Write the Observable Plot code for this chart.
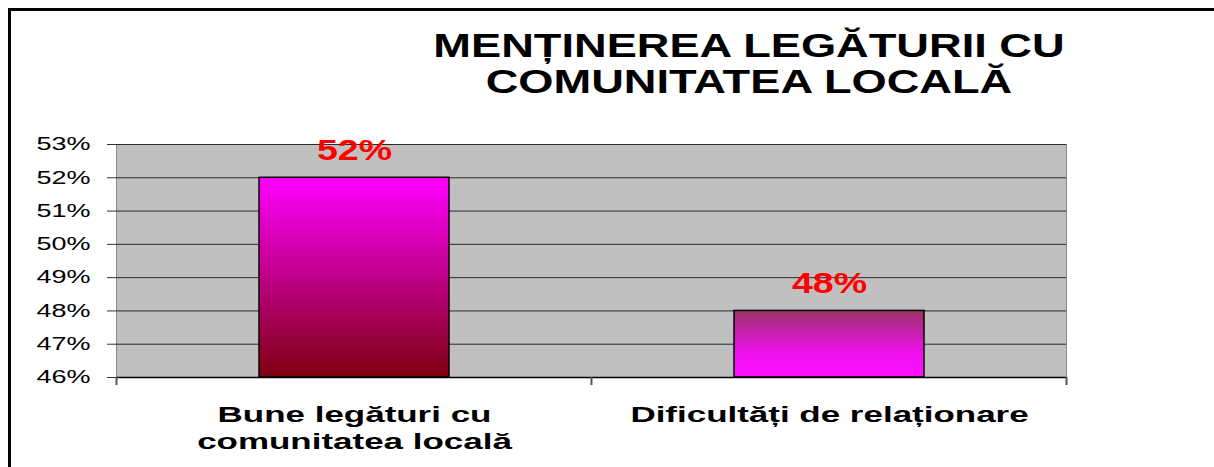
<!DOCTYPE html>
<html><head><meta charset="utf-8">
<script src="https://cdn.jsdelivr.net/npm/d3@7"></script>
<script src="https://cdn.jsdelivr.net/npm/@observablehq/plot@0.6"></script>
<style>
html,body{margin:0;padding:0;background:#fff;overflow:hidden;width:1214px;height:467px;}
#wrap{position:relative;width:1214px;height:467px;overflow:hidden;font-family:"Liberation Sans",Arial,sans-serif;}
#chart{position:absolute;left:0;top:0;}
#border{position:absolute;left:8px;top:8px;width:1300px;height:600px;border:3px solid #000;box-sizing:border-box;pointer-events:none;}
.title{position:absolute;left:749px;top:28px;white-space:nowrap;text-align:center;font-weight:bold;font-size:33px;line-height:36px;color:#000;transform:translateX(-50%) scaleX(1.37);}
</style></head><body>
<div id="wrap"><div id="chart"></div><div id="border"></div><div class="title" id="title"></div></div>
<script>
const categories = ["Bune legături cu\ncomunitatea locală", "Dificultăți de relaționare"];
const values = [0.52, 0.48];
const gradients = ["g1", "g2"];
const yTicks = [0.46, 0.47, 0.48, 0.49, 0.50, 0.51, 0.52, 0.53];
const yDomain = [0.46, 0.53];
const titleLines = ["MENȚINEREA LEGĂTURII CU", "COMUNITATEA LOCALĂ"];

document.getElementById("title").innerHTML = titleLines.join("<br>");

const data = categories.map((c, i) => ({cat: c, value: values[i], grad: gradients[i]}));
const pct = d3.format(".0%");

const plot = Plot.plot({
  width: 1214, height: 467,
  marginTop: 144, marginBottom: 90, marginLeft: 116, marginRight: 148,
  style: {fontFamily: "Liberation Sans, Arial, sans-serif", background: "transparent", overflow: "visible", color: "#000"},
  x: {domain: categories, paddingInner: 0.6, paddingOuter: 0.3, label: null},
  y: {domain: yDomain, label: null},
  color: {type: "identity"},
  marks: [
    Plot.frame({fill: "#C0C0C0", stroke: "#888"}),
    Plot.gridY({ticks: yTicks, stroke: "#2b2b2b", strokeOpacity: 1}),
    Plot.barY(data, {x: "cat", y1: () => yDomain[0], y2: "value", fill: d => `url(#${d.grad})`, stroke: "#000", strokeWidth: 1.5}),
    Plot.ruleY([yDomain[0]], {stroke: "#000", strokeWidth: 1.5}),
    Plot.axisY({ticks: yTicks, tickFormat: pct, tickSize: 9, tickPadding: 17, fontSize: 18, stroke: "#333", label: null}),
    Plot.axisX({tickSize: 0, tickPadding: 25, fontSize: 22, fontWeight: "bold", lineHeight: 1.23, label: null}),
    Plot.text(data, {x: "cat", y: "value", text: d => pct(d.value), dy: -18, lineAnchor: "bottom", fill: "#FF0000", fontSize: 30, fontWeight: "bold"})
  ]
});
document.getElementById("chart").appendChild(plot);
const svg = plot.tagName.toLowerCase() === "svg" ? plot : plot.querySelector("svg");

// gradients
const defs = d3.select(svg).insert("defs", ":first-child");
const g1 = defs.append("linearGradient").attr("id", "g1").attr("x1", 0).attr("y1", 0).attr("x2", 0).attr("y2", 1);
g1.append("stop").attr("offset", "0%").attr("stop-color", "#FF00FF");
g1.append("stop").attr("offset", "100%").attr("stop-color", "#7F0010");
const g2 = defs.append("linearGradient").attr("id", "g2").attr("x1", 0).attr("y1", 0).attr("x2", 0).attr("y2", 1);
g2.append("stop").attr("offset", "0%").attr("stop-color", "#993366");
g2.append("stop").attr("offset", "65%").attr("stop-color", "#F010F0");
g2.append("stop").attr("offset", "100%").attr("stop-color", "#FF10FF");

// category boundary ticks
const xs = plot.scale("x");
const bw = xs.bandwidth;
const step = xs.step || bw / (1 - 0.6);
const bounds = categories.map(c => xs.apply(c) - (step - bw) / 2);
bounds.push(bounds[bounds.length - 1] + step);
const yBase = plot.scale("y").apply(yDomain[0]);
d3.select(svg).append("g").selectAll("line").data(bounds).join("line")
  .attr("x1", d => d).attr("x2", d => d).attr("y1", yBase).attr("y2", yBase + 8)
  .attr("stroke", "#555").attr("stroke-width", 2);

// horizontal stretch of text, as in the original
const scales = {"y-axis tick label": 1.5, "x-axis tick label": 1.59, "text": 1.25};
svg.querySelectorAll("g[aria-label]").forEach(g => {
  const s = scales[g.getAttribute("aria-label")];
  if (!s) return;
  g.querySelectorAll("text").forEach(t => {
    let tr = t.getAttribute("transform") || "";
    const x = t.getAttribute("x"), y = t.getAttribute("y");
    if (x != null && !String(x).endsWith("em")) {
      const yy = (y != null && !String(y).endsWith("em")) ? y : 0;
      tr += ` translate(${x},${yy})`;
      t.removeAttribute("x");
      if (yy !== 0) t.removeAttribute("y");
    }
    tr += ` scale(${s},1)`;
    t.setAttribute("transform", tr.trim());
  });
});
</script>
</body></html>
